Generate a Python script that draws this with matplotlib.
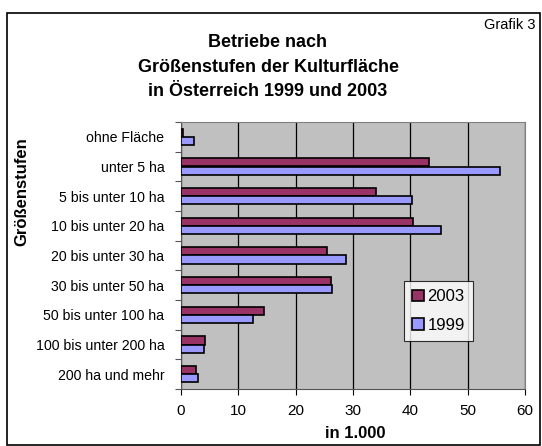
import numpy as np
import matplotlib.pyplot as plt
from matplotlib.patches import Rectangle

plt.rcParams['font.family'] = ['Liberation Sans', 'DejaVu Sans']

categories = ["ohne Fläche", "unter 5 ha", "5 bis unter 10 ha", "10 bis unter 20 ha",
              "20 bis unter 30 ha", "30 bis unter 50 ha", "50 bis unter 100 ha",
              "100 bis unter 200 ha", "200 ha und mehr"]
values_2003 = [0.4, 43.2, 34.0, 40.5, 25.5, 26.2, 14.4, 4.2, 2.7]
values_1999 = [2.2, 55.6, 40.3, 45.4, 28.7, 26.4, 12.6, 4.0, 3.0]
x_ticks = [0, 10, 20, 30, 40, 50, 60]

fig = plt.figure(figsize=(5.42, 4.46), dpi=100)
fig.patch.set_facecolor('white')

# outer frame
fig.patches.append(Rectangle((7 / 542, 1 / 446), 533 / 542, 432 / 446, transform=fig.transFigure,
                             fill=False, edgecolor='black', linewidth=1.2))

ax = fig.add_axes([181 / 542, 57 / 446, 344 / 542, 267 / 446])
ax.set_facecolor('#C0C0C0')

y = np.arange(len(categories))
h = 0.27
ax.barh(y - h / 2, values_2003, height=h, color='#993366', edgecolor='black', linewidth=1.2,
        label='2003', zorder=3)
ax.barh(y + h / 2, values_1999, height=h, color='#9999FF', edgecolor='black', linewidth=1.2,
        label='1999', zorder=3)

ax.set_ylim(len(categories) - 0.5, -0.5)
ax.set_xlim(0, 60)
ax.set_yticks(np.arange(len(categories) + 1) - 0.5)
ax.set_yticklabels([])
ax.set_yticks(y, minor=True)
ax.set_yticklabels(categories, minor=True, fontsize=10.2)
ax.tick_params(axis='y', which='minor', length=0, pad=12)
ax.tick_params(axis='y', which='major', length=4, width=0.8, color='#555555')
ax.set_xticks(x_ticks)
ax.set_xticklabels([str(t) for t in x_ticks], fontsize=11)
ax.tick_params(axis='x', length=4, width=0.8, pad=7)
ax.xaxis.grid(True, color='black', linewidth=0.9, zorder=0)
ax.set_axisbelow(True)

for s in ['top', 'right']:
    ax.spines[s].set_color('#808080')
ax.spines['left'].set_color('#555555')
ax.spines['bottom'].set_color('#555555')

fig.text(355 / 542, 1 - 433 / 446, "in 1.000", fontsize=12, fontweight='bold', ha='center', va='center')
fig.text(22 / 542, 1 - 192 / 446, "Größenstufen", rotation=90, fontsize=12, fontweight='bold',
         ha='center', va='center')

fig.text(268 / 542, 1 - 67 / 446, "Betriebe nach\nGrößenstufen der Kulturfläche\nin Österreich 1999 und 2003",
         fontsize=13, fontweight='bold', ha='center', va='center', linespacing=1.6)
fig.text(535 / 542, 1 - 25 / 446, "Grafik 3", fontsize=10.5, ha='right', va='center')

leg = ax.legend(loc='upper left', bbox_to_anchor=(223 / 344, (389 - 281) / 267), fontsize=12,
                frameon=True, fancybox=False, edgecolor='black', handlelength=0.7, handleheight=0.7,
                handletextpad=0.2, labelspacing=0.8, borderpad=0.5, borderaxespad=0)
leg.get_frame().set_linewidth(0.8)

fig.savefig("out.png", dpi=100)
